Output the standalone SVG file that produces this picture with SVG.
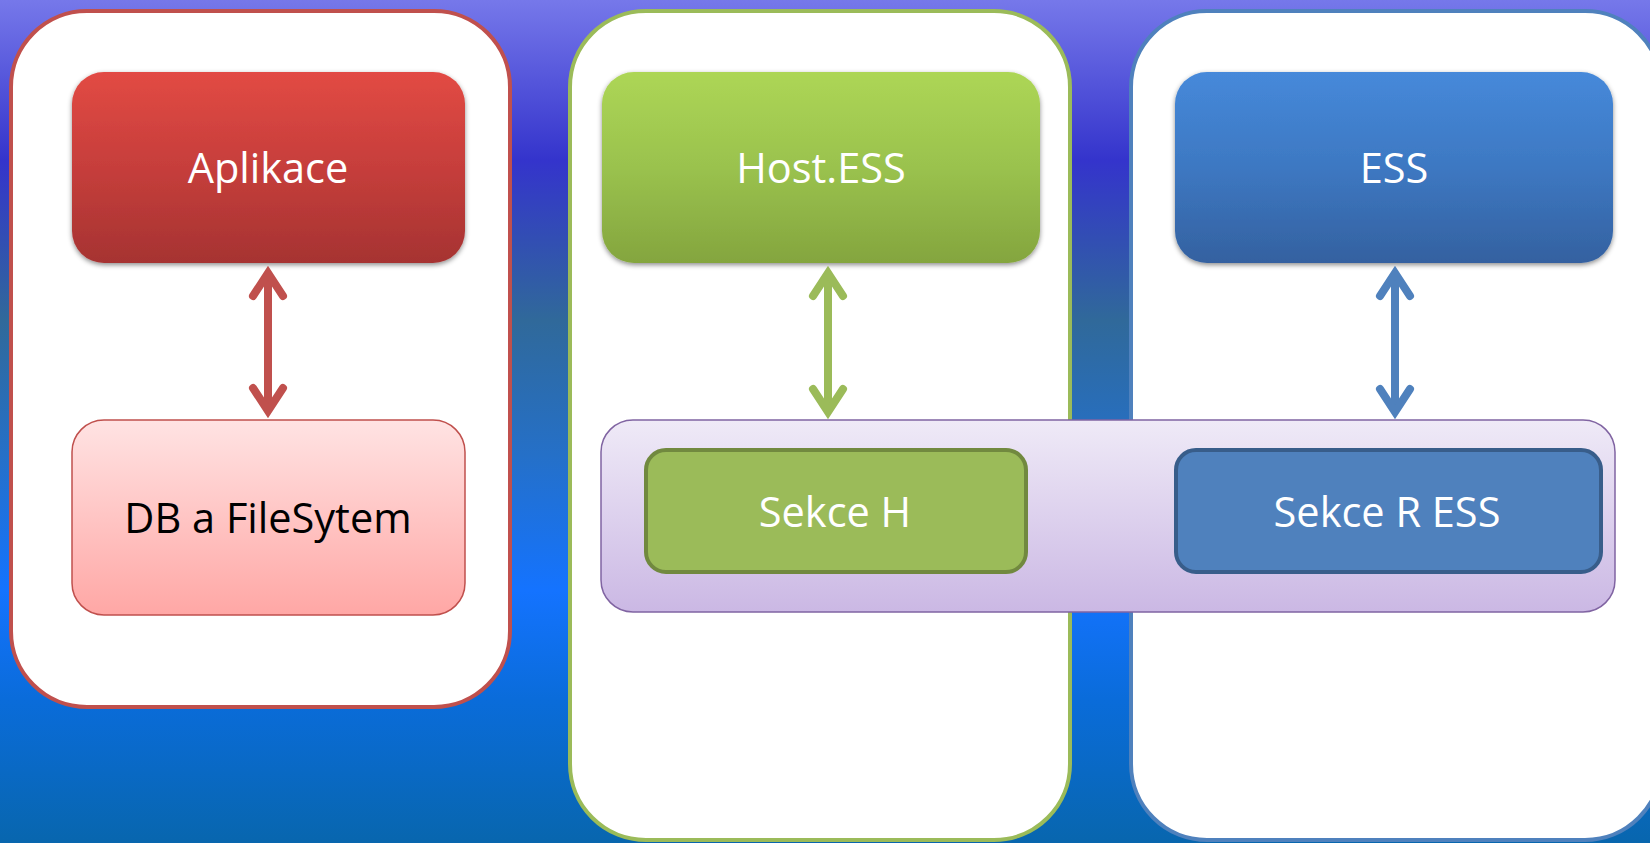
<svg xmlns="http://www.w3.org/2000/svg" width="1650" height="843" viewBox="0 0 1650 843">
<defs>
<linearGradient id="bg" x1="0" y1="0" x2="0" y2="1">
<stop offset="0" stop-color="#7678EA"/>
<stop offset="0.19" stop-color="#3434CC"/>
<stop offset="0.38" stop-color="#30699A"/>
<stop offset="0.54" stop-color="#2570C8"/>
<stop offset="0.70" stop-color="#1473FF"/>
<stop offset="0.83" stop-color="#0A6CDA"/>
<stop offset="1" stop-color="#0866AE"/>
</linearGradient>
<linearGradient id="gRed" x1="0" y1="0" x2="0" y2="1">
<stop offset="0" stop-color="#E24A44"/>
<stop offset="0.5" stop-color="#C63E3B"/>
<stop offset="1" stop-color="#A63332"/>
</linearGradient>
<linearGradient id="gPink" x1="0" y1="0" x2="0" y2="1">
<stop offset="0" stop-color="#FFE3E3"/>
<stop offset="1" stop-color="#FFA7A5"/>
</linearGradient>
<linearGradient id="gGreen" x1="0" y1="0" x2="0" y2="1">
<stop offset="0" stop-color="#ADD655"/>
<stop offset="0.5" stop-color="#9AC24E"/>
<stop offset="1" stop-color="#84A53E"/>
</linearGradient>
<linearGradient id="gBlue" x1="0" y1="0" x2="0" y2="1">
<stop offset="0" stop-color="#4689DA"/>
<stop offset="0.5" stop-color="#3D78C2"/>
<stop offset="1" stop-color="#3461A0"/>
</linearGradient>
<linearGradient id="gPurple" x1="0" y1="0" x2="0" y2="1">
<stop offset="0" stop-color="#EFEAF7"/>
<stop offset="1" stop-color="#CBB8E4"/>
</linearGradient>
<filter id="sh" x="-10%" y="-10%" width="120%" height="130%">
<feGaussianBlur in="SourceAlpha" stdDeviation="2.5"/>
<feOffset dy="2" result="b"/>
<feFlood flood-color="#000" flood-opacity="0.45"/>
<feComposite in2="b" operator="in"/>
<feMerge><feMergeNode/><feMergeNode in="SourceGraphic"/></feMerge>
</filter>
</defs>
<style>
.lbl{font-family:"Open Sans","Liberation Sans",sans-serif;font-size:41.5px;text-anchor:middle;fill:#FFFFFF}
.dark{fill:#000000}
.arr{fill:none;stroke-width:8;stroke-linecap:round;stroke-linejoin:miter;stroke-miterlimit:10}
.shaft{stroke-linecap:butt}
</style>
<rect x="0" y="0" width="1650" height="843" fill="url(#bg)"/>

<g id="container-red">
<rect x="11" y="11" width="499" height="696" rx="76" ry="76" fill="#FFFFFF" stroke="#C0504D" stroke-width="4"/>
</g>
<g id="container-green">
<rect x="570" y="11" width="500" height="829" rx="76" ry="76" fill="#FFFFFF" stroke="#9BBB59" stroke-width="4"/>
</g>
<g id="container-blue">
<rect x="1131" y="11" width="530" height="829" rx="76" ry="76" fill="#FFFFFF" stroke="#4F81BD" stroke-width="4"/>
</g>

<g id="aplikace">
<rect x="72" y="72" width="393" height="191" rx="32" ry="32" fill="url(#gRed)" filter="url(#sh)"/>
<text class="lbl" x="268" y="183">Aplikace</text>
</g>
<g id="db">
<rect x="72" y="420" width="393" height="195" rx="32" ry="32" fill="url(#gPink)" stroke="#C0504D" stroke-width="1.5"/>
<text class="lbl dark" x="268" y="533">DB a FileSytem</text>
</g>

<g id="host-ess">
<rect x="602" y="72" width="438" height="191" rx="32" ry="32" fill="url(#gGreen)" filter="url(#sh)"/>
<text class="lbl" x="821" y="183">Host.ESS</text>
</g>
<g id="ess">
<rect x="1175" y="72" width="438" height="191" rx="32" ry="32" fill="url(#gBlue)" filter="url(#sh)"/>
<text class="lbl" x="1394" y="183">ESS</text>
</g>

<g id="band">
<rect x="601" y="420" width="1014" height="192" rx="32" ry="32" fill="url(#gPurple)" stroke="#8064A2" stroke-width="1.5"/>
</g>
<g id="sekce-h">
<rect x="646" y="450" width="380" height="122" rx="20" ry="20" fill="#9BBB59" stroke="#71893F" stroke-width="4"/>
<text class="lbl" x="835" y="527">Sekce H</text>
</g>
<g id="sekce-r-ess">
<rect x="1176" y="450" width="425" height="122" rx="20" ry="20" fill="#4F81BD" stroke="#385D8A" stroke-width="4"/>
<text class="lbl" x="1387" y="527">Sekce R ESS</text>
</g>

<g id="connectors">
<g stroke="#C0504D" class="arr">
<path class="shaft" d="M268 272 V412"/>
<path d="M253 296 L268 273 L283 296"/>
<path d="M253 388 L268 411 L283 388"/>
</g>
<g stroke="#9BBB59" class="arr">
<path class="shaft" d="M828 272 V413"/>
<path d="M813 296 L828 273 L843 296"/>
<path d="M813 389 L828 412 L843 389"/>
</g>
<g stroke="#4F81BD" class="arr">
<path class="shaft" d="M1395 272 V413"/>
<path d="M1380 296 L1395 273 L1410 296"/>
<path d="M1380 389 L1395 412 L1410 389"/>
</g>
</g>
</svg>
